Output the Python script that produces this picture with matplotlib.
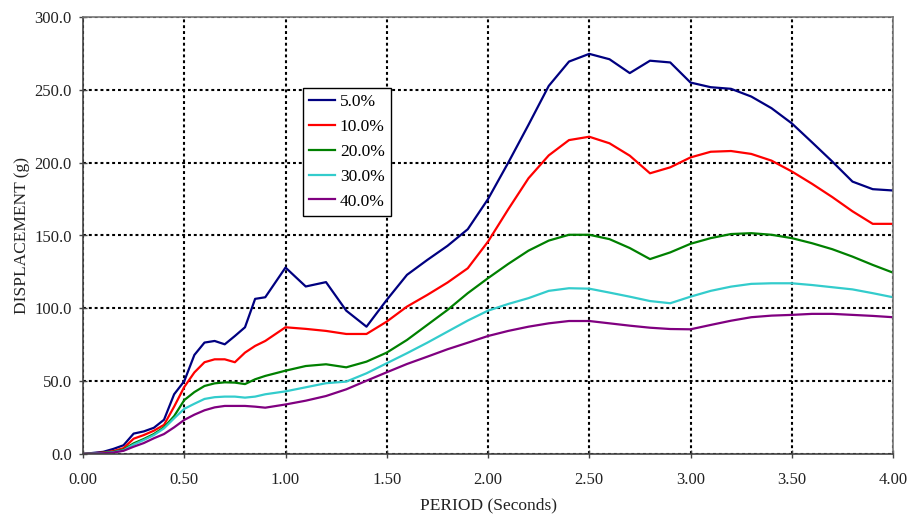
import numpy as np
import matplotlib
matplotlib.use("Agg")
import matplotlib.pyplot as plt
from matplotlib.ticker import FormatStrFormatter, MultipleLocator

# period (seconds)
period = [0.0, 0.10, 0.15, 0.20, 0.25, 0.30, 0.35, 0.40, 0.45, 0.50,
          0.55, 0.60, 0.65, 0.70, 0.75, 0.80, 0.85, 0.90, 1.0,
          1.1, 1.2, 1.3, 1.4, 1.5, 1.6, 1.7, 1.8, 1.9, 2.0,
          2.1, 2.2, 2.3, 2.4, 2.5, 2.6, 2.7, 2.8, 2.9, 3.0,
          3.1, 3.2, 3.3, 3.4, 3.5, 3.6, 3.7, 3.8, 3.9, 4.0]

damp_5 = [0, 1.5, 3.5, 6, 14, 15.5, 18, 23.5, 41, 50,
          68, 76.5, 77.6, 75.3, 81, 87, 106.5, 107.6, 128,
          115, 118, 98.4, 87.4, 105.8, 123, 133.2, 142.9, 154.3, 175,
          200, 226, 252.7, 269.4, 274.7, 271, 261.5, 270, 268.8, 255,
          251.8, 250.7, 245.4, 237.4, 227, 214, 200.8, 187, 181.8, 180.9]
damp_10 = [0, 1, 2, 4, 10.5, 13, 16, 20, 32.5, 46,
           56, 63, 65, 65, 63, 69.6, 74.2, 77.6, 87,
           85.9, 84.5, 82.4, 82.4, 90.9, 101.2, 109.2, 117.7, 127.5, 145.8,
           168, 189.3, 205, 215.5, 217.8, 213.3, 204.8, 192.7, 196.8, 203.6,
           207.5, 208, 206, 201.4, 194, 185.5, 176.4, 166.6, 158, 158]
damp_20 = [0, 0.8, 1.5, 3, 7.3, 10.3, 13.7, 18.3, 26, 37,
           42.5, 46.7, 48.5, 49.2, 49, 48, 51.3, 53.6, 57.2,
           60.4, 61.6, 59.5, 63.4, 69.6, 78.3, 88.6, 98.9, 110.4, 120.7,
           130.5, 139.6, 146.5, 150.5, 150.5, 147.5, 141.4, 133.8, 138.4, 144.3,
           148.2, 151, 151.6, 150.5, 148.2, 144.7, 140.6, 135.5, 129.8, 124.5]
damp_30 = [0, 0.6, 1.2, 2.5, 6.5, 9.6, 13, 17.6, 24.5, 31,
           34.5, 37.8, 39, 39.4, 39.4, 38.7, 39.4, 41, 43,
           45.8, 48.6, 49.7, 55.4, 62.3, 69.2, 76.4, 84, 91.6, 98.4,
           103, 107, 112, 113.8, 113.5, 110.8, 108, 105, 103.5, 108,
           112, 114.9, 116.8, 117.2, 117.2, 116, 114.5, 113, 110.4, 107.6]
damp_40 = [0, 0.5, 1, 2.2, 5, 7.5, 10.8, 13.7, 18.3, 23.4,
           27, 30, 32, 33, 33, 33, 32.5, 31.8, 34,
           36.6, 39.8, 44.4, 50.3, 56.1, 61.8, 66.8, 71.9, 76.4, 81,
           84.5, 87.4, 89.7, 91.3, 91.3, 89.7, 88.1, 86.7, 85.8, 85.6,
           88.6, 91.5, 93.9, 95, 95.5, 96.2, 96.2, 95.5, 94.8, 93.9]

labels = ["5.0%", "10.0%", "20.0%", "30.0%", "40.0%"]
colors = ["#000080", "#FF0000", "#008000", "#33CCCC", "#800080"]

plt.rcParams["font.family"] = ["Liberation Serif", "DejaVu Serif"]

fig = plt.figure(figsize=(9.1, 5.18), dpi=100)
ax = fig.add_axes([83 / 910, 64 / 518, 810 / 910, 437 / 518])

for vals, lab, col in zip([damp_5, damp_10, damp_20, damp_30, damp_40], labels, colors):
    ax.plot(period, vals, color=col, lw=1.6, label=lab)

ax.set_xlim(0, 4)
ax.set_ylim(0, 300)
ax.xaxis.set_major_locator(MultipleLocator(0.5))
ax.yaxis.set_major_locator(MultipleLocator(50))
ax.xaxis.set_major_formatter(FormatStrFormatter("%.2f"))
ax.yaxis.set_major_formatter(FormatStrFormatter("%.1f"))
ax.tick_params(axis="both", direction="inout", length=6, width=1,
               color="#444444", labelsize=12, labelcolor="#222222")
ax.tick_params(axis="x", pad=10)
ax.tick_params(axis="y", pad=5)

ax.grid(True, color="black", lw=1.5, linestyle=(0, (1.4, 1.4)))
ax.set_axisbelow(True)

for side in ["left", "bottom"]:
    ax.spines[side].set_color("#444444")
    ax.spines[side].set_linewidth(1.2)
for side in ["top", "right"]:
    ax.spines[side].set_color("#777777")
    ax.spines[side].set_linestyle((0, (1, 1)))
    ax.spines[side].set_linewidth(1.2)

ax.set_xlabel("PERIOD (Seconds)", fontsize=12.5, labelpad=7, color="#222222")
ax.set_ylabel("DISPLACEMENT (g)", fontsize=12.5, labelpad=3, color="#222222")

leg = ax.legend(loc="upper left", bbox_to_anchor=(0.272, 0.8375), borderaxespad=0,
                fontsize=12.5, frameon=True, fancybox=False, handlelength=1.5,
                handletextpad=0.25, labelspacing=0.5, borderpad=0.35)
leg.get_frame().set_edgecolor("black")
leg.get_frame().set_linewidth(1.0)
leg.get_frame().set_alpha(1)

fig.savefig("out.png", dpi=100)
